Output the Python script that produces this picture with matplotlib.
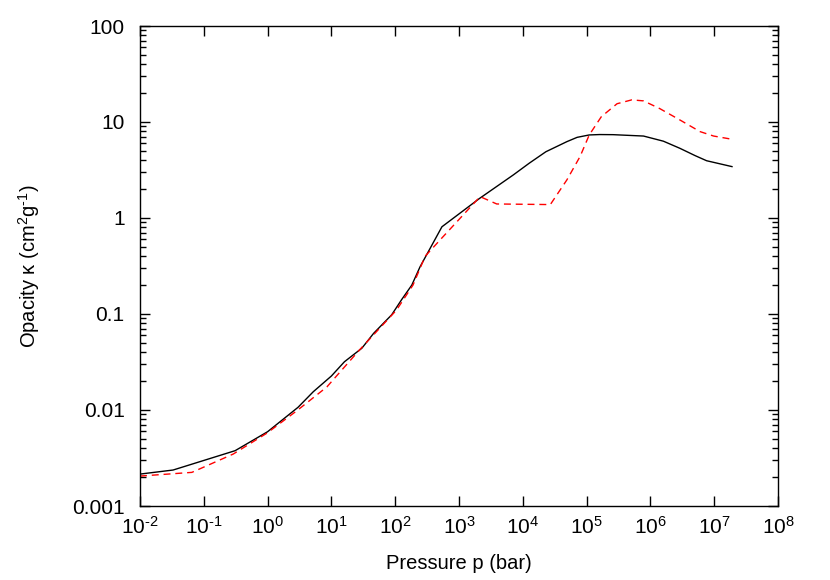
import matplotlib
matplotlib.use("Agg")
import matplotlib.pyplot as plt
from matplotlib.ticker import LogLocator, FixedLocator, FixedFormatter, NullLocator

plt.rcParams['font.family'] = ['Liberation Sans', 'DejaVu Sans']
plt.rcParams['mathtext.fontset'] = 'custom'
plt.rcParams['mathtext.rm'] = 'Liberation Sans'
plt.rcParams['mathtext.it'] = 'Liberation Sans'

# black solid curve
p_black = [0.01, 0.033, 0.31, 1.0, 3.0, 5.2, 10, 16, 30, 46, 88, 126, 182, 245,
           540, 2100, 7100, 1.26e4, 2.3e4, 4.9e4, 7.1e4, 1.1e5, 1.6e5, 2.6e5, 7.8e5,
           1.6e6, 2.9e6, 5.0e6, 7.6e6, 1.9e7]
k_black = [0.00215, 0.00237, 0.00377, 0.00594, 0.01067, 0.0155, 0.0226, 0.0318, 0.044,
           0.063, 0.098, 0.141, 0.20, 0.31, 0.81, 1.60, 2.81, 3.72, 4.90, 6.24, 6.92,
           7.33, 7.40, 7.38, 7.14, 6.31, 5.32, 4.47, 3.95, 3.43]

# red dashed curve
p_red = [0.01, 0.065, 0.29, 0.98, 2.86, 8.5, 28, 105, 190, 295, 540, 1050, 2140, 3900,
         2.7e4, 4.9e4, 7.9e4, 1.1e5, 1.7e5, 3.0e5, 5.1e5, 7.8e5, 1.4e6, 2.9e6, 6.0e6, 9.8e6, 1.9e7]
k_red = [0.00205, 0.00224, 0.00348, 0.00575, 0.0098, 0.0174, 0.0427, 0.110, 0.20, 0.40,
         0.62, 1.0, 1.67, 1.40, 1.38, 2.49, 4.37, 7.33, 11.35, 15.5, 17.0, 16.6, 13.8,
         10.5, 7.94, 7.14, 6.61]

xticks = [1e-2, 1e-1, 1e0, 1e1, 1e2, 1e3, 1e4, 1e5, 1e6, 1e7, 1e8]
xticklabels = [r'$10^{\text{-2}}$', r'$10^{\text{-1}}$', '$10^{0}$', '$10^{1}$', '$10^{2}$',
               '$10^{3}$', '$10^{4}$', '$10^{5}$', '$10^{6}$', '$10^{7}$', '$10^{8}$']
yticks = [0.001, 0.01, 0.1, 1, 10, 100]
yticklabels = ['0.001', '0.01', '0.1', '1', '10', '100']

fig = plt.figure(figsize=(8.3, 5.8), dpi=100)
ax = fig.add_axes([140/830, 74/580, 638/830, 480/580])

ax.plot(p_black, k_black, color='black', lw=1.0)
ax.plot(p_red, k_red, color='red', lw=1.0, dashes=(5, 3.5))

ax.set_xscale('log')
ax.set_yscale('log')
ax.set_xlim(1e-2, 1e8)
ax.set_ylim(1e-3, 100)

ax.xaxis.set_major_locator(FixedLocator(xticks))
ax.xaxis.set_major_formatter(FixedFormatter(xticklabels))
ax.xaxis.set_minor_locator(NullLocator())
ax.yaxis.set_major_locator(FixedLocator(yticks))
ax.yaxis.set_major_formatter(FixedFormatter(yticklabels))
ax.yaxis.set_minor_locator(LogLocator(base=10, subs=range(2, 10), numticks=20))

ax.tick_params(which='both', direction='in', top=True, right=True, width=1.0, labelsize=15)
ax.tick_params(which='major', length=7)
ax.tick_params(which='minor', length=4)
ax.tick_params(axis='x', which='major', pad=7)
ax.tick_params(axis='y', which='major', pad=11)
for s in ax.spines.values():
    s.set_linewidth(1.0)

ax.set_xlabel('Pressure p (bar)', fontsize=14.5, labelpad=12)
ax.set_ylabel('Opacity κ (cm$^{2}$g$^{\\text{-1}}$)', fontsize=14.5, labelpad=22)

fig.savefig('out.png', dpi=100)
